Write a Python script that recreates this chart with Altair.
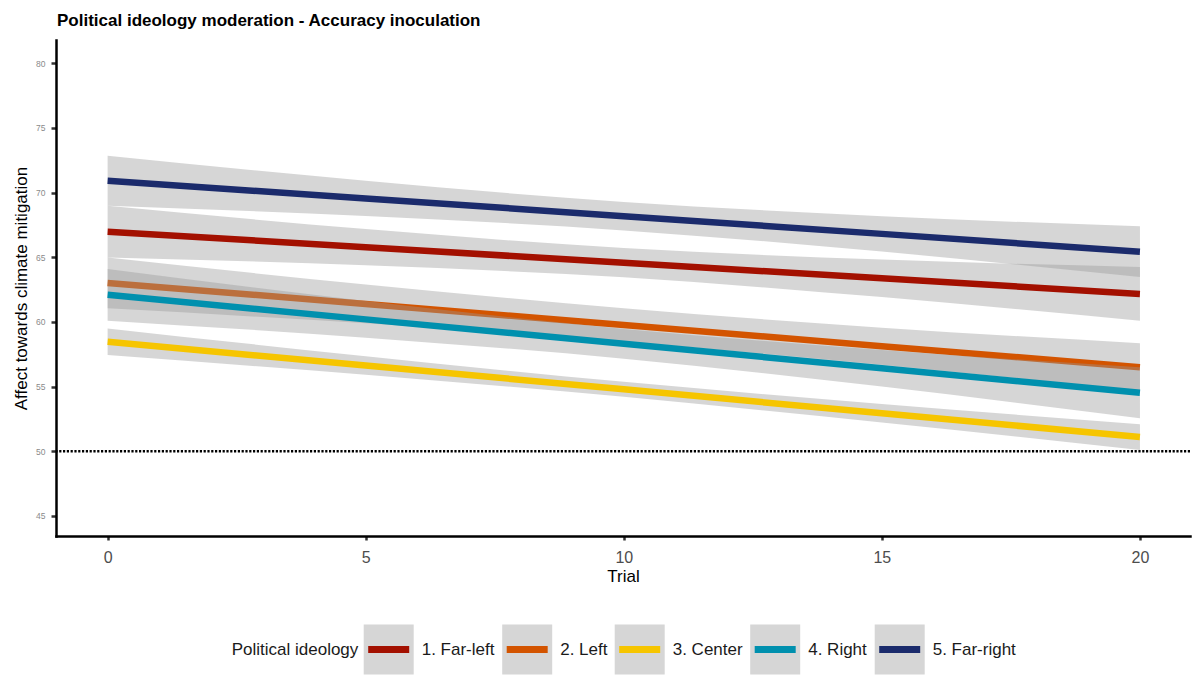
import altair as alt
import pandas as pd

FONT = "Liberation Sans"

# Political ideology groups and their line colours
groups = ["1. Far-left", "2. Left", "3. Center", "4. Right", "5. Far-right"]
colors = ["#A31000", "#D35400", "#F6C500", "#0090AE", "#1B2B6C"]

# Trial positions at which the fitted lines and confidence bands are given
trial = [0, 5, 10, 15, 20]

# Fitted affect per group
fit_far_left = [66.98, 65.78, 64.58, 63.37, 62.17]
fit_left = [63.02, 61.39, 59.76, 58.13, 56.50]
fit_center = [58.47, 56.63, 54.79, 52.94, 51.10]
fit_right = [62.10, 60.20, 58.31, 56.42, 54.52]
fit_far_right = [70.92, 69.55, 68.18, 66.81, 65.43]

# Lower / upper confidence limits per group
lo_far_left = [64.98, 64.38, 63.45, 61.92, 60.09]
hi_far_left = [68.98, 67.18, 65.71, 64.82, 64.25]
lo_left = [61.05, 59.89, 58.46, 56.70, 54.65]
hi_left = [64.99, 62.89, 61.06, 59.56, 58.35]
lo_center = [57.44, 55.91, 54.21, 52.23, 50.10]
hi_center = [59.50, 57.35, 55.37, 53.65, 52.10]
lo_right = [60.10, 58.78, 57.16, 55.01, 52.55]
hi_right = [64.10, 61.62, 59.46, 57.83, 56.49]
lo_far_right = [68.98, 68.19, 67.08, 65.44, 63.47]
hi_far_right = [72.86, 70.91, 69.28, 68.18, 67.39]

fits = [fit_far_left, fit_left, fit_center, fit_right, fit_far_right]
lows = [lo_far_left, lo_left, lo_center, lo_right, lo_far_right]
highs = [hi_far_left, hi_left, hi_center, hi_right, hi_far_right]

rows = []
for g, f, lo, hi in zip(groups, fits, lows, highs):
    for t, fv, lv, hv in zip(trial, f, lo, hi):
        rows.append({"trial": t, "grp": g, "fit": fv, "lo": lv, "hi": hv})
df = pd.DataFrame(rows)

ref_line = pd.DataFrame({"level": [50]})

x_scale = alt.Scale(domain=[-1.0, 20.97], nice=False, zero=False)
y_scale = alt.Scale(domain=[43.45, 81.8], nice=False, zero=False)

x_axis = alt.Axis(
    title="Trial", values=[0, 5, 10, 15, 20], format="d",
    labelFont=FONT, labelFontSize=16, labelColor="#4d4d4d", labelPadding=9,
    tickSize=4, tickWidth=2.5, tickColor="#333333",
    domainColor="black", domainWidth=2.5, domainCap="square",
    titleFont=FONT, titleFontSize=17, titleFontWeight="normal", titleColor="black",
    titleBaseline="alphabetic", titleY=45.7, grid=False,
)
y_axis = alt.Axis(
    title="Affect towards climate mitigation", values=[45, 50, 55, 60, 65, 70, 75, 80],
    labelFont=FONT, labelFontSize=8.5, labelColor="#8a8a8a", labelPadding=6,
    tickSize=5, tickWidth=2.5, tickColor="#333333",
    domainColor="black", domainWidth=2.5, domainCap="square",
    titleFont=FONT, titleFontSize=17, titleFontWeight="normal", titleColor="black",
    titleBaseline="alphabetic", titleX=-30, grid=False,
)

# Legend key: grey square with the coloured line across its middle.
# The dash pattern strokes only the first (horizontal) segment of the path.
KEY_PATH = "M-0.82,0H1V-1H-1V1H1V0Z"
KEY_BG = "#d6d6d6"

line_legend = alt.Legend(
    title="Political ideology", orient="none", legendX=175.7, legendY=580.8,
    direction="horizontal", titleOrient="left", titleAnchor="middle", titleBaseline="alphabetic",
    titleFont=FONT, titleFontSize=17, titleFontWeight="normal", titleColor="#1a1a1a",
    labelFont=FONT, labelFontSize=17, labelColor="#1a1a1a",
    symbolType=KEY_PATH, symbolSize=2500, symbolStrokeWidth=7,
    symbolDash=[41, 1000], symbolFillColor=KEY_BG, symbolOpacity=1,
    titlePadding=1.5, labelOffset=4.5, columnPadding=-7.5, padding=0,
)

stroke_enc = alt.Stroke("grp:N", scale=alt.Scale(domain=groups, range=colors), legend=line_legend)

layers = []
for g in groups:
    band = alt.Chart(df).transform_filter(alt.datum.grp == g).mark_area(
        color="#999999", opacity=0.4, interpolate="monotone"
    ).encode(
        x=alt.X("trial:Q", scale=x_scale, axis=x_axis),
        y=alt.Y("lo:Q", scale=y_scale, axis=y_axis),
        y2="hi:Q",
    )
    line = alt.Chart(df).transform_filter(alt.datum.grp == g).mark_line(
        strokeWidth=6.5, strokeCap="butt"
    ).encode(
        x=alt.X("trial:Q", scale=x_scale, axis=x_axis),
        y=alt.Y("fit:Q", scale=y_scale, axis=y_axis),
        stroke=stroke_enc,
    )
    layers += [band, line]

dotted = alt.Chart(ref_line).mark_rule(
    color="black", strokeWidth=2.5, strokeDash=[2.2, 1.6]
).encode(y=alt.Y("level:Q", scale=y_scale, axis=y_axis))
layers.append(dotted)

chart = alt.layer(*layers).properties(
    width=1134,
    height=496,
    autosize=alt.AutoSizeParams(type="none"),
    padding={"left": 56, "top": 40, "right": 6, "bottom": 139},
    title=alt.TitleParams(
        "Political ideology moderation - Accuracy inoculation",
        anchor="start", frame="group", font=FONT, fontSize=17, fontWeight="bold",
        color="black", baseline="alphabetic", offset=-3, dx=1,
    ),
).configure(background="white").configure_view(stroke=None)

chart.save("out.html", embed_options={"renderer": "svg", "actions": False})
